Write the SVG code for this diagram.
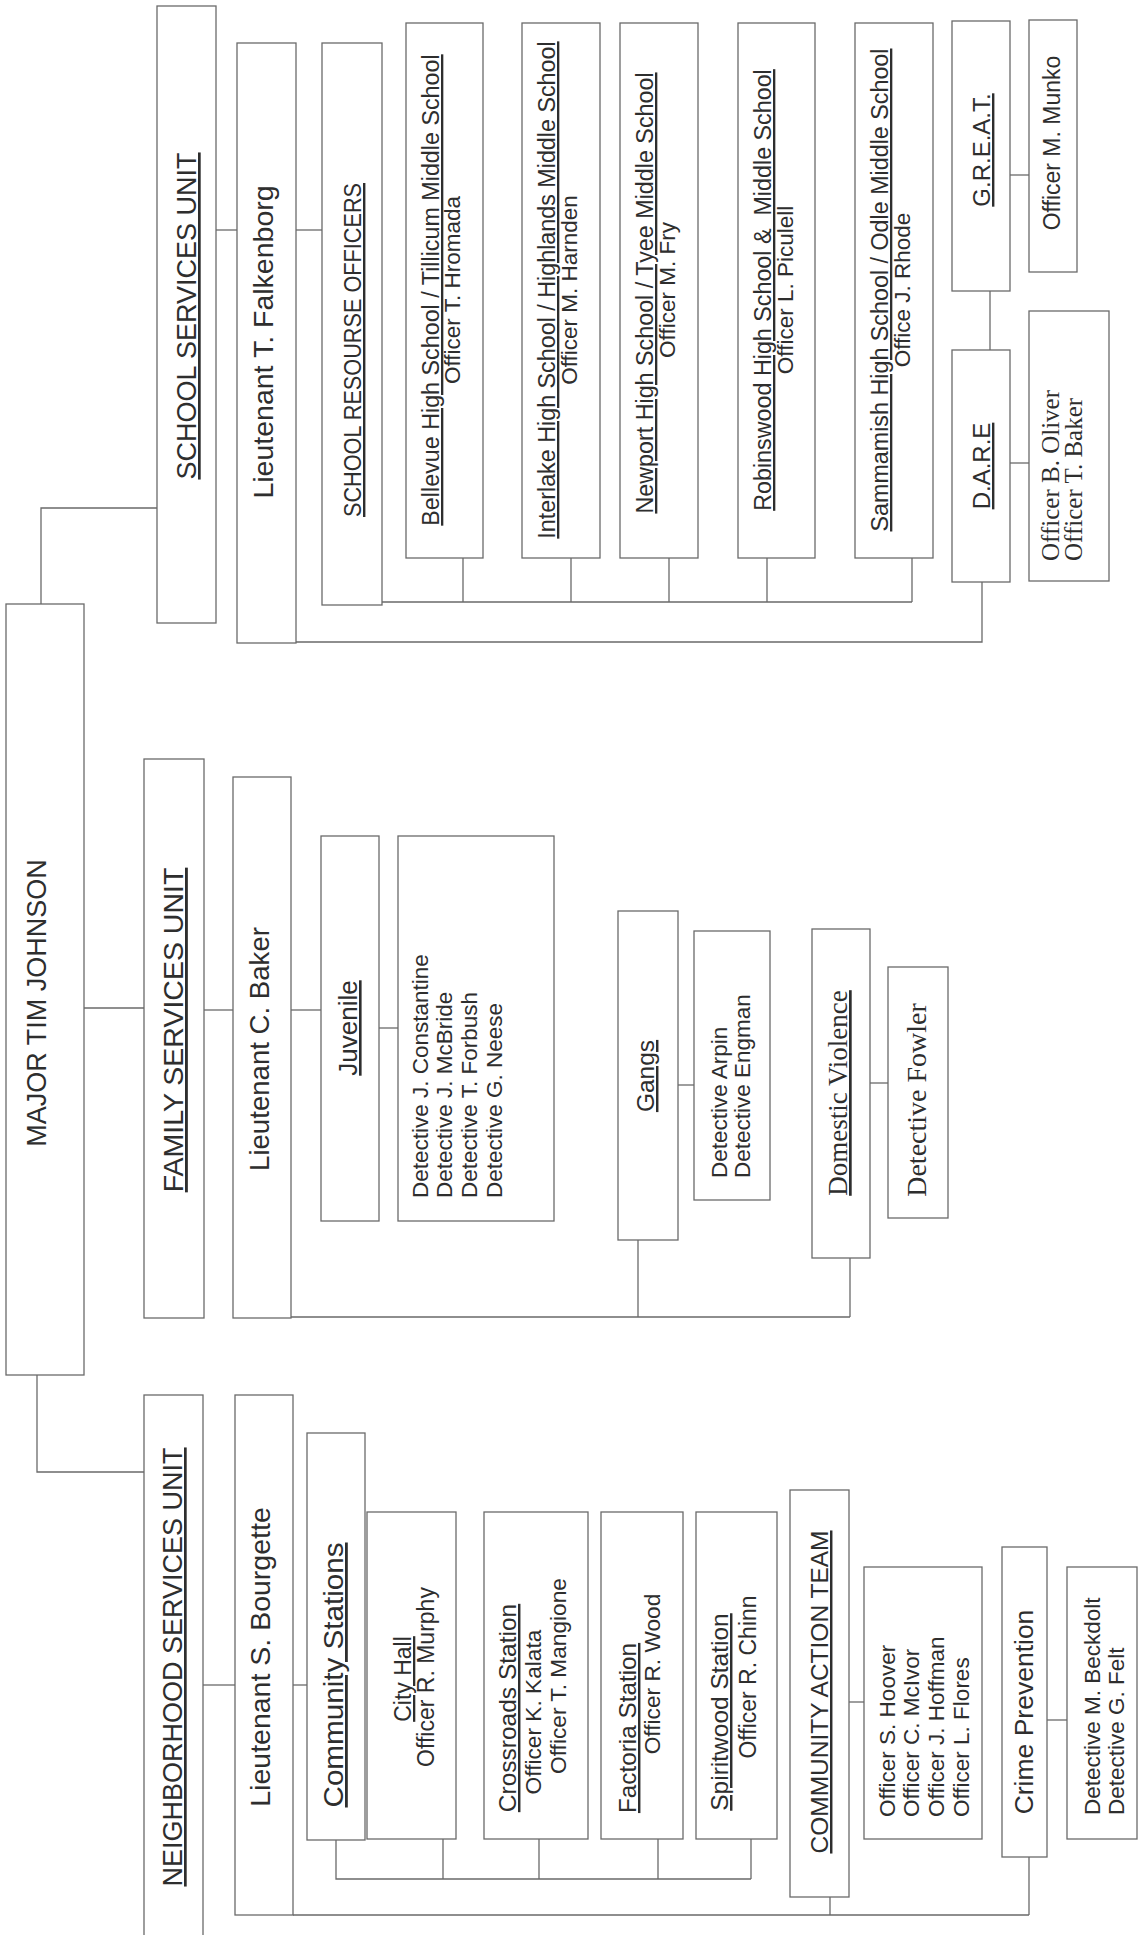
<svg xmlns="http://www.w3.org/2000/svg" width="1142" height="1935" viewBox="0 0 1142 1935">
<style>
.b{fill:none;stroke:#6a6a6a;stroke-width:1.3}
.c{fill:none;stroke:#6a6a6a;stroke-width:1.3}
text{font-family:"Liberation Sans",Arial,sans-serif;fill:#2e2e2e}
.t1{font-size:27px}
.t2{font-size:25px}
.t3{font-size:22.5px}
.ts{font-size:23.3px}
.sf{font-family:"Liberation Serif","Times New Roman",serif}
.u{text-decoration:underline}
.m{text-anchor:middle}
</style>
<rect width="1142" height="1935" fill="#fff"/>
<g id="connectors">
<path class="c" d="M41,604V508H157"/>
<path class="c" d="M84,1008H144"/>
<path class="c" d="M37,1375V1472H144"/>
<path class="c" d="M216,230H237"/>
<path class="c" d="M296,230H322"/>
<path class="c" d="M296,642H982V582"/>
<path class="c" d="M382,602H912M463,558V602M571,558V602M669,558V602M767,558V602M912,558V602"/>
<path class="c" d="M1010,175H1029"/>
<path class="c" d="M990,291V350"/>
<path class="c" d="M1010,463H1029"/>
<path class="c" d="M204,1010H233"/>
<path class="c" d="M291,1010H321"/>
<path class="c" d="M379,1028H398"/>
<path class="c" d="M678,1085H694"/>
<path class="c" d="M870,1083H888"/>
<path class="c" d="M291,1317H850M638,1240V1317M850,1258V1317"/>
<path class="c" d="M203,1685H235"/>
<path class="c" d="M293,1685H307"/>
<path class="c" d="M336,1840V1879H751M443,1839V1879M539,1839V1879M658,1839V1879M751,1839V1879"/>
<path class="c" d="M293,1915H1029M830,1897V1915M1029,1857V1915"/>
<path class="c" d="M849,1702H864"/>
<path class="c" d="M1047,1720H1067"/>
</g>
<g id="major"><rect class="b" x="6" y="604" width="78" height="771"/><text class="t1 m" transform="translate(46,1003) rotate(-90)">MAJOR TIM JOHNSON</text></g>
<g id="school-unit"><rect class="b" x="157" y="6" width="59" height="617"/><text class="t1 m u" transform="translate(196,316) rotate(-90)">SCHOOL SERVICES UNIT</text></g>
<g id="falkenborg"><rect class="b" x="237" y="43" width="59" height="600"/><text class="m" font-size="28.5" transform="translate(273,342) rotate(-90)">Lieutenant T. Falkenborg</text></g>
<g id="sro"><rect class="b" x="322" y="43" width="60" height="562"/><text class="u" font-size="24" textLength="334" lengthAdjust="spacingAndGlyphs" transform="translate(361,517) rotate(-90)">SCHOOL RESOURSE OFFICERS</text></g>
<g id="bellevue"><rect class="b" x="406" y="23" width="77" height="535"/><text class="ts m u" transform="translate(439,290) rotate(-90)">Bellevue High School / Tillicum Middle School</text><text class="t3 m" transform="translate(460,290) rotate(-90)">Officer T. Hromada</text></g>
<g id="interlake"><rect class="b" x="522" y="23" width="78" height="535"/><text class="ts m u" transform="translate(555,290) rotate(-90)">Interlake High School / Highlands Middle School</text><text class="t3 m" transform="translate(577,290) rotate(-90)">Officer M. Harnden</text></g>
<g id="newport"><rect class="b" x="620" y="23" width="78" height="535"/><text class="ts m u" transform="translate(653,293) rotate(-90)">Newport High School / Tyee Middle School</text><text class="t3 m" transform="translate(675,290) rotate(-90)">Officer M. Fry</text></g>
<g id="robinswood"><rect class="b" x="738" y="23" width="77" height="535"/><text class="ts m u" xml:space="preserve" transform="translate(771,290) rotate(-90)">Robinswood High School &amp;  Middle School</text><text class="t3 m" transform="translate(793,290) rotate(-90)">Officer L. Piculell</text></g>
<g id="sammamish"><rect class="b" x="855" y="23" width="78" height="535"/><text class="ts m u" transform="translate(888,290) rotate(-90)">Sammamish High School / Odle Middle School</text><text class="t3 m" transform="translate(910,290) rotate(-90)">Office J. Rhode</text></g>
<g id="great"><rect class="b" x="952" y="21" width="58" height="270"/><text class="m u" font-size="24" transform="translate(990,150) rotate(-90)">G.R.E.A.T.</text></g>
<g id="munko"><rect class="b" x="1029" y="20" width="48" height="252"/><text class="m" font-size="23" transform="translate(1060,143) rotate(-90)">Officer M. Munko</text></g>
<g id="dare"><rect class="b" x="952" y="350" width="58" height="232"/><text class="m u" font-size="24" transform="translate(990,466) rotate(-90)">D.A.R.E</text></g>
<g id="dare-officers"><rect class="b" x="1029" y="311" width="80" height="270"/><text class="sf" font-size="25" transform="translate(1059,561) rotate(-90)">Officer B. Oliver</text><text class="sf" font-size="25" transform="translate(1082,561) rotate(-90)">Officer T. Baker</text></g>
<g id="family-unit"><rect class="b" x="144" y="759" width="60" height="559"/><text class="m u" font-size="28.5" transform="translate(183,1030) rotate(-90)">FAMILY SERVICES UNIT</text></g>
<g id="baker"><rect class="b" x="233" y="777" width="58" height="541"/><text class="m" font-size="27.6" transform="translate(269,1049) rotate(-90)">Lieutenant C. Baker</text></g>
<g id="juvenile"><rect class="b" x="321" y="836" width="58" height="385"/><text class="m u" font-size="26" transform="translate(357,1028) rotate(-90)">Juvenile</text></g>
<g id="juvenile-detectives"><rect class="b" x="398" y="836" width="156" height="385"/><text class="t3" transform="translate(428,1198) rotate(-90)">Detective J. Constantine</text><text class="t3" transform="translate(452,1198) rotate(-90)">Detective J. McBride</text><text class="t3" transform="translate(477,1198) rotate(-90)">Detective T. Forbush</text><text class="t3" transform="translate(502,1198) rotate(-90)">Detective G. Neese</text></g>
<g id="gangs"><rect class="b" x="618" y="911" width="60" height="329"/><text class="m u" font-size="24.5" transform="translate(654,1076) rotate(-90)">Gangs</text></g>
<g id="gangs-detectives"><rect class="b" x="694" y="931" width="76" height="269"/><text class="t3" transform="translate(727,1178) rotate(-90)">Detective Arpin</text><text class="t3" transform="translate(750,1178) rotate(-90)">Detective Engman</text></g>
<g id="domestic-violence"><rect class="b" x="812" y="929" width="58" height="329"/><text class="m u sf" font-size="27" transform="translate(847,1093) rotate(-90)">Domestic Violence</text></g>
<g id="fowler"><rect class="b" x="888" y="967" width="60" height="251"/><text class="m sf" font-size="28" transform="translate(926,1100) rotate(-90)">Detective Fowler</text></g>
<g id="neighborhood-unit"><rect class="b" x="144" y="1395" width="59" height="560"/><text class="t1 m u" transform="translate(182,1667) rotate(-90)">NEIGHBORHOOD SERVICES UNIT</text></g>
<g id="bourgette"><rect class="b" x="235" y="1395" width="58" height="520"/><text class="m" font-size="28.5" transform="translate(270,1657) rotate(-90)">Lieutenant S. Bourgette</text></g>
<g id="community-stations"><rect class="b" x="307" y="1433" width="58" height="407"/><text class="m u" font-size="28" textLength="265" lengthAdjust="spacingAndGlyphs" transform="translate(343,1675) rotate(-90)">Community Stations</text></g>
<g id="city-hall"><rect class="b" x="367" y="1512" width="89" height="327"/><text class="m u" font-size="23" transform="translate(411,1679) rotate(-90)">City Hall</text><text class="m" font-size="23" transform="translate(434,1677) rotate(-90)">Officer R. Murphy</text></g>
<g id="crossroads"><rect class="b" x="484" y="1512" width="104" height="327"/><text class="m u" font-size="24.5" transform="translate(516,1708) rotate(-90)">Crossroads Station</text><text class="m" font-size="22.7" transform="translate(541,1712) rotate(-90)">Officer K. Kalata</text><text class="m" font-size="22.7" transform="translate(566,1676) rotate(-90)">Officer T. Mangione</text></g>
<g id="factoria"><rect class="b" x="601" y="1512" width="82" height="327"/><text class="m u" font-size="24.3" transform="translate(636,1728) rotate(-90)">Factoria Station</text><text class="m" font-size="22.7" transform="translate(660,1674) rotate(-90)">Officer R. Wood</text></g>
<g id="spiritwood"><rect class="b" x="696" y="1512" width="81" height="327"/><text class="m u" font-size="24.5" transform="translate(728,1712) rotate(-90)">Spiritwood Station</text><text class="m" font-size="23" transform="translate(756,1677) rotate(-90)">Officer R. Chinn</text></g>
<g id="community-action-team"><rect class="b" x="790" y="1490" width="59" height="407"/><text class="m u" font-size="24.5" transform="translate(828,1692) rotate(-90)">COMMUNITY ACTION TEAM</text></g>
<g id="cat-officers"><rect class="b" x="864" y="1567" width="118" height="272"/><text class="t3" transform="translate(895,1817) rotate(-90)">Officer S. Hoover</text><text class="t3" transform="translate(919,1817) rotate(-90)">Officer C. McIvor</text><text class="t3" transform="translate(944,1817) rotate(-90)">Officer J. Hoffman</text><text class="t3" transform="translate(969,1817) rotate(-90)">Officer L. Flores</text></g>
<g id="crime-prevention"><rect class="b" x="1002" y="1547" width="45" height="310"/><text class="m" font-size="26.5" transform="translate(1033,1712) rotate(-90)">Crime Prevention</text></g>
<g id="crime-detectives"><rect class="b" x="1067" y="1567" width="70" height="272"/><text class="t3" transform="translate(1100,1815) rotate(-90)">Detective M. Beckdolt</text><text class="t3" transform="translate(1124,1815) rotate(-90)">Detective G. Felt</text></g>
</svg>
